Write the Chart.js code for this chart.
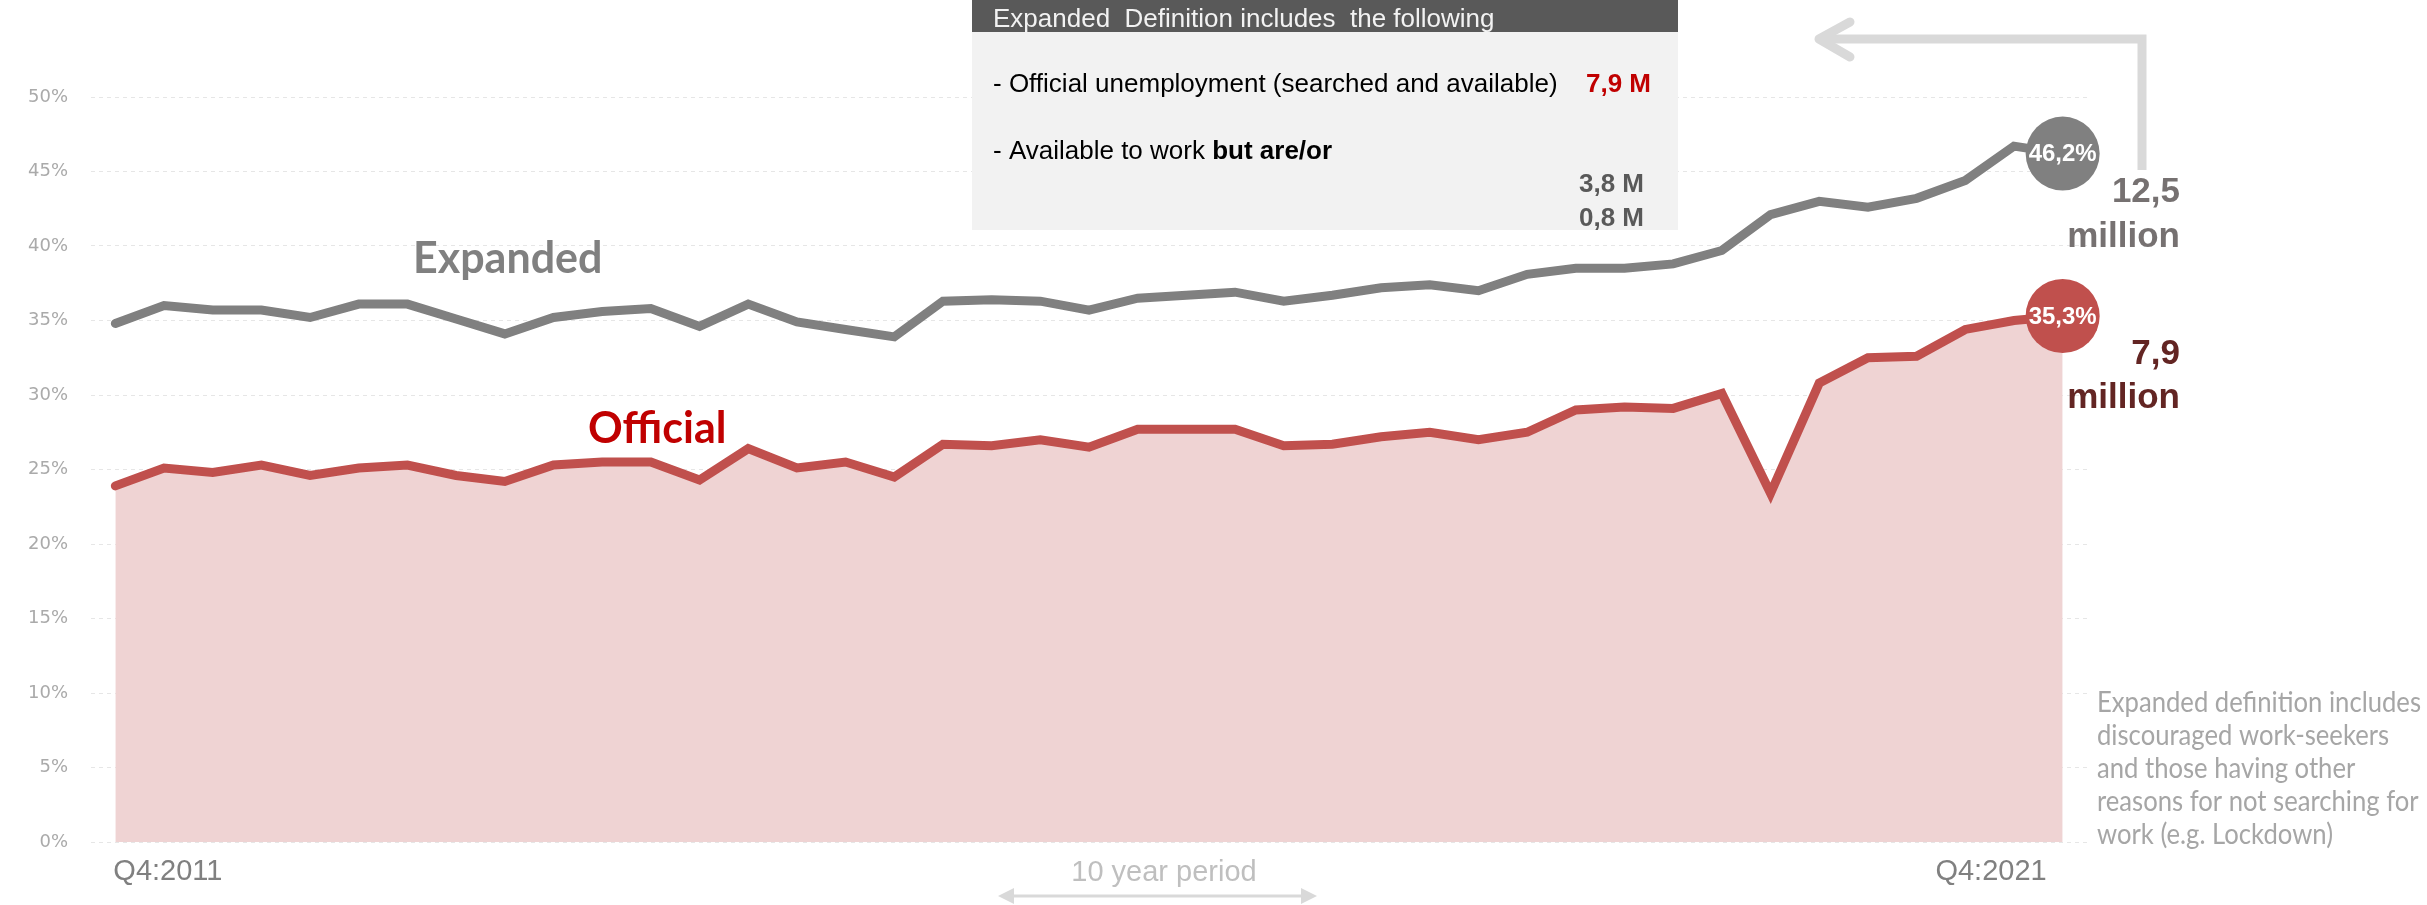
<!DOCTYPE html>
<html>
<head>
<meta charset="utf-8">
<script src="https://cdn.jsdelivr.net/npm/chart.js@4.4.0/dist/chart.umd.min.js"></script>
<style>
  html, body { margin: 0; padding: 0; background: #fff; overflow: hidden; }
  #wrap { position: relative; width: 2427px; height: 905px; }
</style>
</head>
<body>
<div id="wrap"><canvas id="rateChart"></canvas></div>
<script>
// quarterly labels, Q4:2011 .. Q4:2021
const quarters = [
    'Q4:2011',
    'Q1:2012', 'Q2:2012', 'Q3:2012', 'Q4:2012',
    'Q1:2013', 'Q2:2013', 'Q3:2013', 'Q4:2013',
    'Q1:2014', 'Q2:2014', 'Q3:2014', 'Q4:2014',
    'Q1:2015', 'Q2:2015', 'Q3:2015', 'Q4:2015',
    'Q1:2016', 'Q2:2016', 'Q3:2016', 'Q4:2016',
    'Q1:2017', 'Q2:2017', 'Q3:2017', 'Q4:2017',
    'Q1:2018', 'Q2:2018', 'Q3:2018', 'Q4:2018',
    'Q1:2019', 'Q2:2019', 'Q3:2019', 'Q4:2019',
    'Q1:2020', 'Q2:2020', 'Q3:2020', 'Q4:2020',
    'Q1:2021', 'Q2:2021', 'Q3:2021', 'Q4:2021'
];

// unemployment rate, %
const expandedRate = [34.8, 36.0, 35.7, 35.7, 35.2, 36.1, 36.1, 35.1, 34.1, 35.2,
    35.6, 35.8, 34.6, 36.1, 34.9, 34.4, 33.9, 36.3, 36.4, 36.3,
    35.7, 36.5, 36.7, 36.9, 36.3, 36.7, 37.2, 37.4, 37.0, 38.1,
    38.5, 38.5, 38.8, 39.7, 42.1, 43.0, 42.6, 43.2, 44.4, 46.7, 46.2];
const officialRate = [23.9, 25.1, 24.8, 25.3, 24.6, 25.1, 25.3, 24.6, 24.2, 25.3,
    25.5, 25.5, 24.3, 26.4, 25.1, 25.5, 24.5, 26.7, 26.6, 27.0,
    26.5, 27.7, 27.7, 27.7, 26.6, 26.7, 27.2, 27.5, 27.0, 27.5,
    29.0, 29.2, 29.1, 30.1, 23.4, 30.8, 32.5, 32.6, 34.4, 35.0, 35.3];

// people unemployed in Q4:2021
const expandedMillions = '12,5';
const officialMillions = '7,9';
const noteLines = [
    'Expanded definition includes',
    'discouraged work-seekers',
    'and those having other',
    'reasons for not searching for',
    'work (e.g. Lockdown)'
];

const yMin = 0, yMax = 50, yStep = 5;

function pct(v) {
    return v.toFixed(1).replace('.', ',') + '%';
}

function bubble(ctx, cx, cy, color, text) {
    ctx.beginPath();
    ctx.arc(cx, cy, 37, 0, Math.PI * 2);
    ctx.fillStyle = color;
    ctx.fill();
    ctx.fillStyle = '#ffffff';
    ctx.font = 'bold 24px "Liberation Sans", Arial';
    ctx.textAlign = 'center';
    ctx.textBaseline = 'middle';
    ctx.fillText(text, cx, cy + 1);
}

const extras = {
    id: 'extras',
    afterDatasetsDraw(chart) {
        const { ctx, scales: { x, y } } = chart;
        const last = quarters.length - 1;
        ctx.save();
        bubble(ctx, x.getPixelForValue(last), y.getPixelForValue(expandedRate[last]), '#808080', pct(expandedRate[last]));
        bubble(ctx, x.getPixelForValue(last), y.getPixelForValue(officialRate[last]), '#c0504d', pct(officialRate[last]));
        ctx.restore();
    },
    afterDraw(chart) {
        const { ctx, scales: { x } } = chart;
        const last = quarters.length - 1;
        ctx.save();
        ctx.textBaseline = 'alphabetic';

        // first / last quarter labels
        ctx.font = '29px "Liberation Sans", Arial';
        ctx.fillStyle = '#808080';
        ctx.textAlign = 'left';
        ctx.fillText(quarters[0], x.getPixelForValue(0) - 2, 880);
        ctx.textAlign = 'right';
        ctx.fillText(quarters[last], x.getPixelForValue(last) - 16, 880);

        // 10 year period arrow
        ctx.fillStyle = '#bfbfbf';
        ctx.textAlign = 'center';
        ctx.fillText('10 year period', 1164, 881);
        ctx.strokeStyle = '#d9d9d9';
        ctx.fillStyle = '#d9d9d9';
        ctx.lineWidth = 3;
        ctx.beginPath();
        ctx.moveTo(1010, 896);
        ctx.lineTo(1305, 896);
        ctx.stroke();
        ctx.beginPath();
        ctx.moveTo(998, 896); ctx.lineTo(1014, 888); ctx.lineTo(1014, 904); ctx.closePath();
        ctx.moveTo(1317, 896); ctx.lineTo(1301, 888); ctx.lineTo(1301, 904); ctx.closePath();
        ctx.fill();

        // series names
        ctx.textAlign = 'left';
        ctx.font = 'bold 43px Lato';
        ctx.fillStyle = '#808080';
        ctx.fillText('Expanded', 413, 273);
        ctx.fillStyle = '#c00000';
        ctx.fillText('Official', 588, 443);

        // millions at the right
        ctx.textAlign = 'right';
        ctx.font = 'bold 35px "Liberation Sans", Arial';
        ctx.fillStyle = '#767171';
        ctx.fillText(expandedMillions, 2180, 202);
        ctx.fillText('million', 2180, 247);
        ctx.fillStyle = '#632523';
        ctx.fillText(officialMillions, 2180, 364);
        ctx.fillText('million', 2180, 408);

        // note on the right, squeezed to the width of the original
        ctx.textAlign = 'left';
        ctx.font = '28px Lato';
        ctx.fillStyle = '#a6a6a6';
        const sx = Math.min(1, 324 / ctx.measureText(noteLines[0]).width);
        ctx.save();
        ctx.translate(2097, 0);
        ctx.scale(sx, 1);
        noteLines.forEach((t, i) => ctx.fillText(t, 0, 712 + i * 33));
        ctx.restore();

        // definition box
        ctx.fillStyle = '#f2f2f2';
        ctx.fillRect(972, 0, 706, 230);
        ctx.fillStyle = '#595959';
        ctx.fillRect(972, 0, 706, 32);
        ctx.font = '26px "Liberation Sans", Arial';
        ctx.fillStyle = '#f2f2f2';
        ctx.fillText('Expanded  Definition includes  the following', 993, 27);
        ctx.fillStyle = '#000000';
        ctx.fillText('- Official unemployment (searched and available)', 993, 92);
        const part = '- Available to work ';
        ctx.fillText(part, 993, 159);
        const w = ctx.measureText(part).width;
        ctx.font = 'bold 26px "Liberation Sans", Arial';
        ctx.fillText('but are/or', 993 + w, 159);
        ctx.textAlign = 'right';
        ctx.fillStyle = '#c00000';
        ctx.fillText(officialMillions + ' M', 1651, 92);
        ctx.fillStyle = '#595959';
        ctx.fillText('3,8 M', 1644, 192);
        ctx.fillText('0,8 M', 1644, 226);

        // bent arrow top right
        ctx.strokeStyle = '#d9d9d9';
        ctx.lineWidth = 9;
        ctx.lineJoin = 'miter';
        ctx.lineCap = 'butt';
        ctx.beginPath();
        ctx.moveTo(2142, 170);
        ctx.lineTo(2142, 39);
        ctx.lineTo(1820, 39);
        ctx.stroke();
        ctx.lineCap = 'round';
        ctx.lineJoin = 'round';
        ctx.beginPath();
        ctx.moveTo(1850, 22);
        ctx.lineTo(1819, 39);
        ctx.lineTo(1850, 57);
        ctx.stroke();

        ctx.restore();
    }
};

const ctx = document.getElementById('rateChart').getContext('2d');
const rateChart = new Chart(ctx, {
    type: 'line',
    data: {
        labels: quarters,
        datasets: [
            {
                label: 'Expanded',
                data: expandedRate,
                borderColor: '#808080',
                borderWidth: 9,
                fill: false,
                order: 1
            },
            {
                label: 'Official',
                data: officialRate,
                borderColor: '#c0504d',
                backgroundColor: '#efd3d3',
                borderWidth: 9,
                fill: 'origin',
                order: 2
            }
        ]
    },
    options: {
        responsive: true,
        maintainAspectRatio: false,
        animation: false,
        elements: {
            line: { tension: 0, borderCapStyle: 'round', borderJoinStyle: 'miter' },
            point: { radius: 0, hoverRadius: 0 }
        },
        layout: { padding: { left: 0, right: 340, top: 97, bottom: 63 } },
        scales: {
            x: {
                display: false,
                offset: true
            },
            y: {
                min: yMin,
                max: yMax,
                afterFit(scale) { scale.width = 91; },
                ticks: {
                    stepSize: yStep,
                    padding: 23,
                    color: '#aaaaaa',
                    font: { family: '"DejaVu Sans"', size: 18 },
                    callback: v => v + '%'
                },
                grid: { color: '#e6e6e6', lineWidth: 1, drawTicks: false },
                border: { display: false, dash: [4, 4] }
            }
        },
        plugins: {
            legend: { display: false },
            tooltip: { enabled: false }
        }
    },
    plugins: [extras]
});
</script>
</body>
</html>
